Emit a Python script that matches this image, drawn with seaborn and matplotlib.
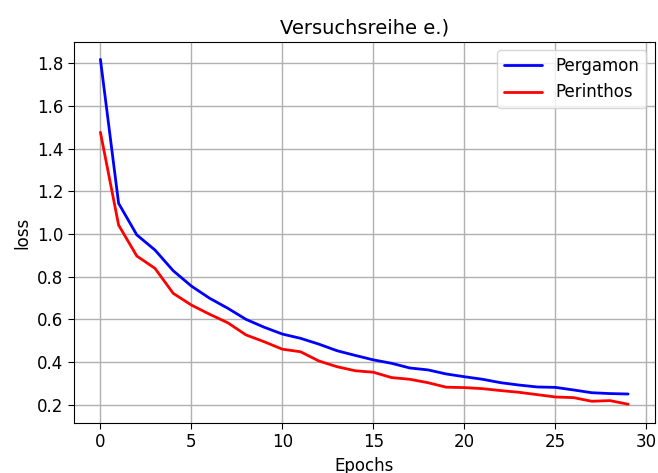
import numpy as np
import pandas as pd
import matplotlib
matplotlib.use("Agg")
import matplotlib.pyplot as plt
import seaborn as sns

# Werte
epochs = list(range(30))
pergamon = [1.819, 1.144, 0.996, 0.925, 0.828, 0.756, 0.699, 0.652, 0.600, 0.563,
            0.531, 0.511, 0.484, 0.453, 0.431, 0.410, 0.394, 0.372, 0.363, 0.344,
            0.331, 0.319, 0.303, 0.292, 0.283, 0.281, 0.269, 0.256, 0.252, 0.250]
perinthos = [1.477, 1.042, 0.897, 0.839, 0.722, 0.667, 0.624, 0.584, 0.527, 0.495,
             0.460, 0.448, 0.405, 0.378, 0.359, 0.352, 0.327, 0.319, 0.303, 0.282,
             0.280, 0.275, 0.266, 0.258, 0.247, 0.236, 0.233, 0.216, 0.219, 0.202]
series_names = ["Pergamon", "Perinthos"]
colors = ["blue", "red"]

df = pd.DataFrame({
    "epoch": epochs * 2,
    "loss": pergamon + perinthos,
    "run": [series_names[0]] * 30 + [series_names[1]] * 30,
})

sns.set_style("ticks", {"axes.grid": True, "grid.color": "#b0b0b0",
                        "axes.edgecolor": "black", "text.color": "black",
                        "axes.labelcolor": "black", "xtick.color": "black",
                        "ytick.color": "black"})
plt.rcParams["font.family"] = ["DejaVu Sans"]

fig = plt.figure(figsize=(6.58, 4.73), dpi=100)
ax = fig.add_axes([0.1125, 0.1057, 0.8822, 0.8053])

sns.lineplot(data=df, x="epoch", y="loss", hue="run", palette=colors,
             linewidth=2, ax=ax)

ax.set_title("Versuchsreihe e.)", fontsize=14, color="black")
ax.set_xlabel("Epochs", fontsize=12)
ax.set_ylabel("loss", fontsize=12)
ax.tick_params(labelsize=12, direction="out", length=4)
ax.set_xticks([0, 5, 10, 15, 20, 25, 30])
ax.set_yticks([0.2, 0.4, 0.6, 0.8, 1.0, 1.2, 1.4, 1.6, 1.8])
ax.set_xlim(-1.45, 30.45)
ax.set_ylim(0.114, 1.9)
ax.grid(True, color="#b0b0b0", linewidth=1)
for s in ax.spines.values():
    s.set_visible(True)
    s.set_color("black")
ax.legend(title=None, loc="upper right", fontsize=12, frameon=True,
          handlelength=2.3)

fig.savefig("out.png", dpi=100)
